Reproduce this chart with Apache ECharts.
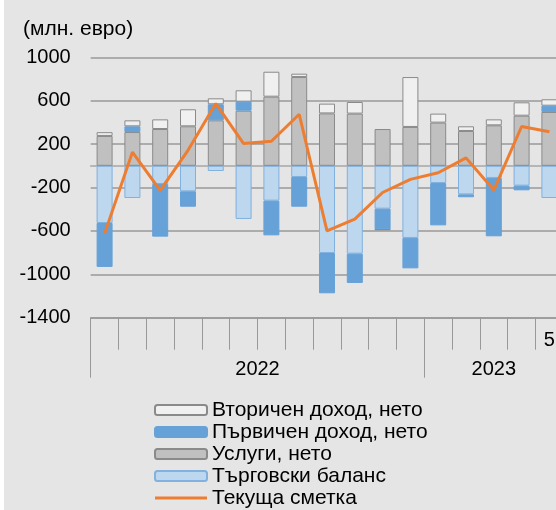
<!DOCTYPE html>
<html>
<head>
<meta charset="utf-8">
<script src="https://cdn.jsdelivr.net/npm/echarts@6/dist/echarts.min.js"></script>
<style>
  html, body { margin: 0; padding: 0; background: #fff; }
  #chart { position: absolute; left: 4px; top: 0; width: 552px; height: 510px; background: #e5e5e5; }
</style>
</head>
<body>
<div id="chart"></div>
<script>
const months = ['1', '2', '3', '4', '5', '6', '7', '8', '9', '10', '11', '12', '1', '2', '3', '4', '5']
const years = ['2022', '2023']
const yearLengths = [12, 5]
const yTicks = [-1400, -1000, -600, -200, 200, 600, 1000]

const trade = [-527, -297, -168, -235, -48, -490, -321, -103, -804, -810, -395, -665, -159, -263, -112, -183, -297]
const services = [275, 311, 339, 364, 419, 508, 637, 818, 483, 481, 339, 358, 398, 321, 373, 462, 496]
const primary = [-405, 53, -485, -142, 148, 83, -320, -274, -371, -270, -191, -280, -390, -27, -538, -43, 58]
const secondary = [35, 55, 89, 157, 55, 105, 230, 31, 90, 107, -5, 460, 83, 43, 55, 123, 59]
const current = [-625, 125, -227, 143, 574, 205, 226, 475, -600, -491, -246, -125, -64, 73, -224, 362, 313]

// category boundaries / year boundaries on helper value axes
const monthEdges = months.map((m, i) => i).concat([months.length])
const lastMonthCenter = months.length - 0.5
const yearStarts = []
const yearCenters = []
let acc = 0
yearLengths.forEach(n => {
  yearStarts.push(acc)
  yearCenters.push(acc + n / 2)
  acc += n
})

const font = 'Liberation Sans, Arial, sans-serif'
const gridColor = '#999'

function barSeries (name, data, fill, border) {
  return {
    name: name,
    type: 'bar',
    stack: 'total',
    barWidth: 16,
    data: data,
    itemStyle: { color: fill, borderColor: border, borderWidth: 1 }
  }
}

const chart = echarts.init(document.getElementById('chart'))
chart.setOption({
  animation: false,
  textStyle: { fontFamily: font },
  title: {
    text: '(млн. евро)',
    left: 14,
    top: 14,
    textStyle: { fontSize: 21, fontWeight: 'normal', color: '#000', fontFamily: font }
  },
  grid: { left: 86.7, right: -7.3, top: 57.3, bottom: 192.3, containLabel: false, outerBoundsMode: 'none' },
  legend: {
    orient: 'vertical',
    left: 150,
    top: 399,
    padding: 0,
    itemWidth: 52,
    itemHeight: 10,
    itemGap: 0,
    selectedMode: false,
    textStyle: { fontSize: 21, lineHeight: 22, color: '#000', fontFamily: font },
    data: [
      'Вторичен доход, нето',
      'Първичен доход, нето',
      'Услуги, нето',
      'Търговски баланс',
      { name: 'Текуща сметка', icon: 'path://M0,0 L52,0 L52,3 L0,3 Z' }
    ]
  },
  xAxis: [
    {
      type: 'category',
      data: months,
      position: 'bottom',
      axisLine: { onZero: true, lineStyle: { color: '#a6a6a6', width: 1.5 } },
      axisTick: { length: 6, lineStyle: { color: gridColor } },
      axisLabel: { show: false }
    },
    {
      type: 'value',
      min: 0,
      max: months.length,
      position: 'bottom',
      axisLine: { onZero: false, show: true, lineStyle: { color: gridColor, width: 1.5 } },
      splitLine: { show: false },
      axisTick: { show: true, customValues: monthEdges, length: 32, lineStyle: { color: gridColor } },
      axisLabel: {
        customValues: [lastMonthCenter],
        formatter: (v) => months[Math.floor(v)],
        margin: 13,
        fontSize: 20,
        color: '#000',
        fontFamily: font
      }
    },
    {
      type: 'value',
      min: 0,
      max: months.length,
      position: 'bottom',
      axisLine: { onZero: false, show: false },
      splitLine: { show: false },
      axisTick: { show: true, customValues: yearStarts, length: 60, lineStyle: { color: gridColor } },
      axisLabel: {
        customValues: yearCenters,
        formatter: (v) => years[yearCenters.indexOf(v)],
        margin: 42,
        fontSize: 20,
        color: '#000',
        fontFamily: font
      }
    }
  ],
  yAxis: {
    type: 'value',
    min: -1400,
    max: 1000,
    axisLine: { show: false },
    axisTick: { show: false, customValues: yTicks },
    axisLabel: {
      customValues: yTicks,
      formatter: (v) => String(v),
      fontSize: 20,
      margin: 20,
      color: '#000',
      fontFamily: font
    },
    splitLine: { show: true, lineStyle: { color: gridColor, width: 1.5 } }
  },
  series: [
    barSeries('Търговски баланс', trade, '#bdd7ee', '#80b1df'),
    barSeries('Услуги, нето', services, '#c0c0c0', '#8a8a8a'),
    barSeries('Първичен доход, нето', primary, '#66a1d7', '#66a1d7'),
    barSeries('Вторичен доход, нето', secondary, '#f0f0f0', '#8a8a8a'),
    {
      name: 'Текуща сметка',
      type: 'line',
      data: current,
      symbol: 'none',
      color: '#ed7d31',
      lineStyle: { color: '#ed7d31', width: 3 },
      z: 5
    }
  ]
})
</script>
</body>
</html>
